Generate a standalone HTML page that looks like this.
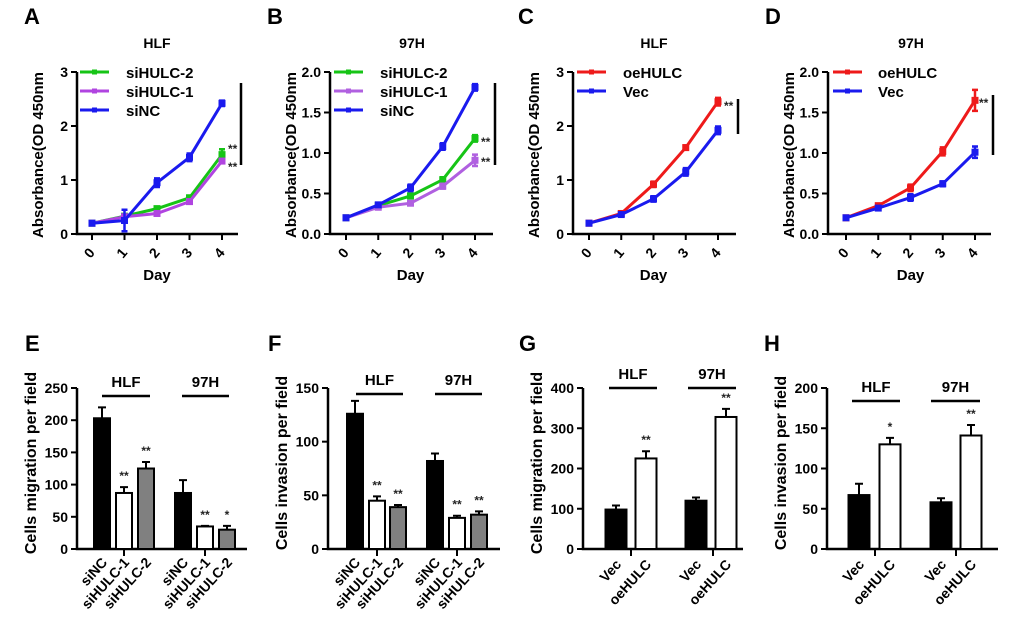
<!DOCTYPE html>
<html><head><meta charset="utf-8"><style>
html,body{margin:0;padding:0;background:#fff}
svg{display:block;font-family:"Liberation Sans",Arial,sans-serif;font-weight:bold}
</style></head><body>
<svg id="fig" width="1020" height="644" viewBox="0 0 1020 644" xmlns="http://www.w3.org/2000/svg"></svg>
<script>
// ---- line chart data ----
const days = [0,1,2,3,4];
const A_siHULC2 = [0.2,0.33,0.47,0.67,1.47];
const A_siHULC2_err = [0.02,0.03,0.03,0.04,0.1];
const A_siHULC1 = [0.2,0.32,0.38,0.6,1.35];
const A_siHULC1_err = [0.02,0.03,0.03,0.04,0.04];
const A_siNC = [0.2,0.25,0.95,1.42,2.42];
const A_siNC_err = [0.02,0.2,0.08,0.07,0.05];
const B_siHULC2 = [0.2,0.35,0.47,0.67,1.18];
const B_siHULC2_err = [0.01,0.02,0.03,0.03,0.04];
const B_siHULC1 = [0.2,0.33,0.38,0.59,0.91];
const B_siHULC1_err = [0.01,0.02,0.02,0.03,0.07];
const B_siNC = [0.2,0.36,0.57,1.08,1.81];
const B_siNC_err = [0.01,0.02,0.04,0.04,0.04];
const C_oeHULC = [0.2,0.38,0.92,1.6,2.45];
const C_oeHULC_err = [0.02,0.02,0.05,0.04,0.07];
const C_Vec = [0.2,0.36,0.65,1.15,1.92];
const C_Vec_err = [0.02,0.02,0.05,0.07,0.07];
const D_oeHULC = [0.2,0.35,0.57,1.02,1.65];
const D_oeHULC_err = [0.01,0.02,0.04,0.05,0.13];
const D_Vec = [0.2,0.32,0.45,0.62,1.01];
const D_Vec_err = [0.01,0.02,0.04,0.03,0.07];
const ticks3 = [0,1,2,3];
const ticks2 = [0,0.5,1.0,1.5,2.0];
// ---- bar chart data ----
const E_labels = ["siNC","siHULC-1","siHULC-2","siNC","siHULC-1","siHULC-2"];
const E_vals = [203,87,125,87,35,30];
const E_err = [17,9,10,20,1,6];
const E_stars = ["","**","**","","**","*"];
const F_vals = [126,45,39,82,29,32];
const F_err = [12,4,2,7,2,3];
const F_stars = ["","**","**","","**","**"];
const G_labels = ["Vec","oeHULC","Vec","oeHULC"];
const G_vals = [98,225,120,328];
const G_err = [10,18,8,20];
const G_stars = ["","**","","**"];
const H_vals = [67,130,58,141];
const H_err = [14,8,5,13];
const H_stars = ["","*","","**"];
const E_ticks = [0,50,100,150,200,250];
const F_ticks = [0,50,100,150];
const G_ticks = [0,100,200,300,400];
const H_ticks = [0,50,100,150,200];

const NS="http://www.w3.org/2000/svg";
const svg=document.getElementById('fig');
function mk(tag,attrs,parent,text){const e=document.createElementNS(NS,tag);for(const k in attrs)e.setAttribute(k,attrs[k]);if(text!==undefined)e.textContent=text;(parent||svg).appendChild(e);return e;}

function linePanel(cfg){
  const g=mk('g',{});
  
  
  const y0=234,y1=72;
  const sy=v=>y0-(v/cfg.ymax)*(y0-y1);
  const sx=d=>cfg.x0+d*(cfg.x4-cfg.x0)/4;
  const t=mk('text',{x:cfg.letterX,y:24,'font-size':22},g,cfg.letter);
  
  const ti=mk('text',{x:cfg.titleX,y:48,'font-size':14,'text-anchor':'middle'},g,cfg.title);
  
  const ax=mk('path',{d:`M${cfg.ax} ${y1}V${y0}H${cfg.axEnd}`,stroke:'#000','stroke-width':2.5,fill:'none'},g);
  
  cfg.ticks.forEach(v=>{
    mk('line',{x1:cfg.ax-6,x2:cfg.ax,y1:sy(v),y2:sy(v),stroke:'#000','stroke-width':2},g);
    const l=mk('text',{x:cfg.ax-9,y:sy(v)+5,'font-size':14,'text-anchor':'end'},g,cfg.fmt(v));
    
  });
  days.forEach(d=>{
    mk('line',{x1:sx(d),x2:sx(d),y1:y0,y2:y0+6,stroke:'#000','stroke-width':2},g);
    const l=mk('text',{x:0,y:0,'font-size':14,'text-anchor':'middle',transform:`translate(${sx(d)+1},${y0+22}) rotate(-50)`},g,String(d));
    
  });
  const xt=mk('text',{x:(cfg.x0+cfg.x4)/2,y:280,'font-size':15,'text-anchor':'middle'},g,'Day');
  
  const yt=mk('text',{x:0,y:0,'font-size':15,'text-anchor':'middle',transform:`translate(${cfg.ax-34},155) rotate(-90)`},g,'Absorbance(OD 450nm');
  
  cfg.series.forEach((s,i)=>{
    const sg=mk('g',{},g);
    
    
    let p='';s.vals.forEach((v,j)=>{p+=(j?'L':'M')+sx(days[j])+' '+sy(v);});
    mk('path',{d:p,stroke:s.color,'stroke-width':3,fill:'none'},sg);
    s.vals.forEach((v,j)=>{
      const x=sx(days[j]),e=s.err[j];
      mk('path',{d:`M${x} ${sy(v-e)}V${sy(v+e)}M${x-3} ${sy(v+e)}H${x+3}M${x-3} ${sy(v-e)}H${x+3}`,stroke:s.color,'stroke-width':2.5,fill:'none'},sg);
      mk('rect',{x:x-3.5,y:sy(v)-3.5,width:7,height:7,fill:s.color},sg);
    });
    const ly=72+i*19;
    const le=mk('g',{},g);
    
    mk('line',{x1:cfg.legX,x2:cfg.legX+29,y1:ly,y2:ly,stroke:s.color,'stroke-width':3},le);
    mk('rect',{x:cfg.legX+12,y:ly-2.5,width:5,height:5,fill:s.color},le);
    mk('text',{x:cfg.legTX,y:ly+6,'font-size':15},le,s.label);
  });
  const sb=mk('line',{x1:cfg.sig[0],x2:cfg.sig[0],y1:cfg.sig[1],y2:cfg.sig[2],stroke:'#000','stroke-width':2.5},g);
  
  cfg.stars.forEach(s=>{const st=mk('text',{x:s[0],y:s[1],'font-size':12,fill:'#222'},g,'**');});
}

linePanel({name:'panel-a',letter:'A',letterX:24,title:'HLF',titleX:157,ax:77,axEnd:238,x0:92,x4:222,ymax:3,ticks:ticks3,fmt:v=>String(v),legX:80,legTX:126,
  series:[{label:'siHULC-2',color:'#16c416',vals:A_siHULC2,err:A_siHULC2_err},{label:'siHULC-1',color:'#b044e0',vals:A_siHULC1,err:A_siHULC1_err},{label:'siNC',color:'#1a1aee',vals:A_siNC,err:A_siNC_err}],
  sig:[241,83,165],stars:[[228,153],[228,171]]});
linePanel({name:'panel-b',letter:'B',letterX:267,title:'97H',titleX:412,ax:330,axEnd:493,x0:346,x4:475,ymax:2,ticks:ticks2,fmt:v=>v.toFixed(1),legX:334,legTX:380,
  series:[{label:'siHULC-2',color:'#16c416',vals:B_siHULC2,err:B_siHULC2_err},{label:'siHULC-1',color:'#b060e0',vals:B_siHULC1,err:B_siHULC1_err},{label:'siNC',color:'#1a1aee',vals:B_siNC,err:B_siNC_err}],
  sig:[495,83,165],stars:[[481,146],[481,166]]});
linePanel({name:'panel-c',letter:'C',letterX:518,title:'HLF',titleX:654,ax:573,axEnd:736,x0:589,x4:718,ymax:3,ticks:ticks3,fmt:v=>String(v),legX:577,legTX:623,
  series:[{label:'oeHULC',color:'#ee1a1a',vals:C_oeHULC,err:C_oeHULC_err},{label:'Vec',color:'#1a1aee',vals:C_Vec,err:C_Vec_err}],
  sig:[738,99,134],stars:[[724,110]]});
linePanel({name:'panel-d',letter:'D',letterX:765,title:'97H',titleX:911,ax:828,axEnd:991,x0:846,x4:975,ymax:2,ticks:ticks2,fmt:v=>v.toFixed(1),legX:833,legTX:878,
  series:[{label:'oeHULC',color:'#ee1a1a',vals:D_oeHULC,err:D_oeHULC_err},{label:'Vec',color:'#1a1aee',vals:D_Vec,err:D_Vec_err}],
  sig:[993,95,155],stars:[[979,107]]});

function barPanel(cfg){
  const g=mk('g',{});
  
  
  const y0=549,y1=388;
  const sy=v=>y0-(v/cfg.ymax)*(y0-y1);
  const t=mk('text',{x:cfg.letterX,y:351,'font-size':22},g,cfg.letter);
  
  const ax=mk('path',{d:`M${cfg.ax} ${y1}V${y0}H${cfg.axEnd}`,stroke:'#000','stroke-width':2.5,fill:'none'},g);
  
  cfg.ticks.forEach(v=>{
    mk('line',{x1:cfg.ax-6,x2:cfg.ax,y1:sy(v),y2:sy(v),stroke:'#000','stroke-width':2},g);
    const l=mk('text',{x:cfg.ax-9,y:sy(v)+5,'font-size':14,'text-anchor':'end'},g,String(v));
    
  });
  const yt=mk('text',{x:0,y:0,'font-size':16,'text-anchor':'middle',transform:`translate(${cfg.ax-41},463) rotate(-90)`},g,cfg.ytitle);
  
  cfg.groupTicks.forEach(x=>mk('line',{x1:x,x2:x,y1:y0,y2:y0+7,stroke:'#000','stroke-width':2},g));
  cfg.groups.forEach(gr=>{
    const gg=mk('g',{},g);
    
    mk('line',{x1:gr[1],x2:gr[2],y1:gr[3],y2:gr[3],stroke:'#000','stroke-width':2.5},gg);
    mk('text',{x:(gr[1]+gr[2])/2,y:gr[3]-9,'font-size':15,'text-anchor':'middle'},gg,gr[0]);
  });
  cfg.vals.forEach((v,i)=>{
    const x=cfg.cx[i],w=cfg.w,f=cfg.fills[i];
    const bg=mk('g',{},g);
    
    
    const e=cfg.err[i];
    mk('path',{d:`M${x} ${sy(v)}V${sy(v+e)}M${x-4} ${sy(v+e)}H${x+4}`,stroke:'#000','stroke-width':2,fill:'none'},bg);
    mk('rect',{x:x-w/2,y:sy(v),width:w,height:y0-sy(v),fill:f,stroke:'#000','stroke-width':2},bg);
    if(cfg.stars[i]) mk('text',{x:x,y:sy(v+e)-7,'font-size':12,'text-anchor':'middle',fill:'#222'},bg,cfg.stars[i]);
    const l=mk('text',{x:0,y:0,'font-size':14,'text-anchor':'end',transform:`translate(${x+cfg.lblDx},${y0+cfg.lblDy}) rotate(-48)`},g,cfg.labels[i]);
    
  });
}
barPanel({name:'panel-e',letter:'E',letterX:25,ax:77,axEnd:247,ymax:250,ticks:E_ticks,ytitle:'Cells migration per field',
  cx:[102,124,146,183,205,227],w:16,fills:['#000','#fff','#808080','#000','#fff','#808080'],
  vals:E_vals,err:E_err,stars:E_stars,labels:E_labels,groupTicks:[124,205],lblDx:6,lblDy:14,
  groups:[['HLF',102,150,396],['97H',182,229,396]]});
barPanel({name:'panel-f',letter:'F',letterX:268,ax:328,axEnd:500,ymax:150,ticks:F_ticks,ytitle:'Cells invasion per field',
  cx:[355,377,398,435,457,479],w:16,fills:['#000','#fff','#808080','#000','#fff','#808080'],
  vals:F_vals,err:F_err,stars:F_stars,labels:E_labels,groupTicks:[377,457],lblDx:6,lblDy:14,
  groups:[['HLF',356,403,394],['97H',435,482,394]]});
barPanel({name:'panel-g',letter:'G',letterX:519,ax:583,axEnd:743,ymax:400,ticks:G_ticks,ytitle:'Cells migration per field',
  cx:[616,646,696,726],w:21,fills:['#000','#fff','#000','#fff'],
  vals:G_vals,err:G_err,stars:G_stars,labels:G_labels,groupTicks:[631,713],lblDx:6,lblDy:16,
  groups:[['HLF',609,657,388],['97H',688,736,388]]});
barPanel({name:'panel-h',letter:'H',letterX:764,ax:827,axEnd:998,ymax:200,ticks:H_ticks,ytitle:'Cells invasion per field',
  cx:[859,890,941,971],w:21,fills:['#000','#fff','#000','#fff'],
  vals:H_vals,err:H_err,stars:H_stars,labels:G_labels,groupTicks:[875,956],lblDx:6,lblDy:16,
  groups:[['HLF',852,900,401],['97H',931,980,401]]});
</script>
</body></html>
